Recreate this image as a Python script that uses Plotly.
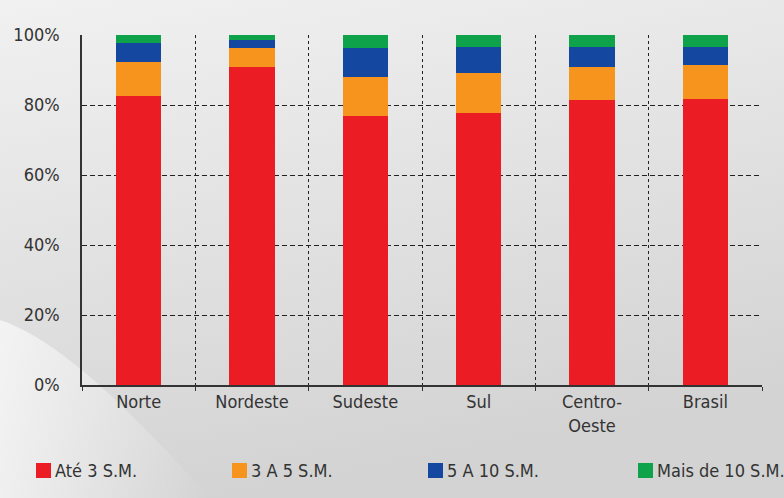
import plotly.graph_objects as go
import base64

categories = ["Norte", "Nordeste", "Sudeste", "Sul", "Centro-<br>Oeste", "Brasil"]
ate3 = [82.7, 90.8, 76.8, 77.7, 81.5, 81.8]
de3a5 = [9.5, 5.4, 11.3, 11.5, 9.3, 9.5]
de5a10 = [5.5, 2.5, 8.2, 7.5, 5.9, 5.4]
mais10 = [2.3, 1.3, 3.7, 3.3, 3.3, 3.3]
series_names = ["Até 3 S.M.", "3 A 5 S.M.", "5 A 10 S.M.", "Mais de 10 S.M."]
series_colors = ["#ec1c24", "#f7941d", "#1448a0", "#0ea24b"]
y_ticks = [0, 20, 40, 60, 80, 100]

FONT = "Liberation Sans Narrow, DejaVu Sans Condensed, Arial Narrow, sans-serif"
W, H = 784, 498
ML, MR, MT, MB = 82, 22, 35, 113
PW, PH = W - ML - MR, H - MT - MB


def px_x(px):
    return (px - ML) / PW


def px_y(py):
    return (H - MB - py) / PH


svg = """<svg xmlns='http://www.w3.org/2000/svg' width='784' height='498'>
<defs>
<linearGradient id='g' x1='0' y1='0' x2='0.3' y2='1'>
<stop offset='0' stop-color='#f1f1f1'/><stop offset='0.5' stop-color='#e2e2e2'/><stop offset='1' stop-color='#d3d3d3'/>
</linearGradient>
<linearGradient id='w' x1='0' y1='0' x2='1' y2='0'>
<stop offset='0' stop-color='#ffffff' stop-opacity='0.9'/><stop offset='1' stop-color='#ffffff' stop-opacity='0'/>
</linearGradient>
</defs>
<rect width='784' height='498' fill='url(#g)'/>
<path d='M0,320 C60,340 130,410 210,498 L0,498 Z' fill='url(#w)' opacity='0.7'/>
</svg>"""
bg_uri = "data:image/svg+xml;base64," + base64.b64encode(svg.encode()).decode()

fig = go.Figure()
for name, vals, col in zip(series_names, [ate3, de3a5, de5a10, mais10], series_colors):
    fig.add_trace(go.Bar(x=categories, y=vals, name=name, showlegend=False,
                         marker=dict(color=col, line=dict(width=0))))

# manual legend (squares + labels) placed like the reference
legend_left_px = [36, 232, 428, 638]
shapes = []
annotations = []
for name, col, lx in zip(series_names, series_colors, legend_left_px):
    shapes.append(dict(type="rect", xref="paper", yref="paper",
                       x0=px_x(lx), x1=px_x(lx + 15), y0=px_y(478), y1=px_y(463),
                       fillcolor=col, line=dict(width=0)))
    annotations.append(dict(text=name, xref="paper", yref="paper",
                            x=px_x(lx + 17), y=px_y(470.5), xanchor="left", yanchor="middle",
                            showarrow=False, font=dict(family=FONT, size=18, color="#333333")))

fig.update_layout(
    width=W, height=H,
    barmode="stack", bargap=0.6,
    margin=dict(l=ML, r=MR, t=MT, b=MB, autoexpand=False),
    paper_bgcolor="#e0e0e0", plot_bgcolor="rgba(0,0,0,0)",
    font=dict(family=FONT, size=18, color="#333333"),
    showlegend=False,
    shapes=shapes, annotations=annotations,
    images=[dict(source=bg_uri, xref="paper", yref="paper", x=-ML / PW, y=1 + MT / PH,
                 sizex=W / PW, sizey=H / PH, xanchor="left", yanchor="top",
                 sizing="stretch", layer="below")],
    xaxis=dict(tickson="boundaries", showgrid=True, gridcolor="#222222", gridwidth=1,
               griddash="3px,3px", showline=True, linecolor="#333333", linewidth=1.5,
               ticks="outside", ticklen=4, tickcolor="#333333", automargin=False,
               tickfont=dict(family=FONT, size=18, color="#333333")),
    yaxis=dict(range=[0, 100], tickvals=y_ticks, ticktext=[f"{v}%" for v in y_ticks],
               showgrid=True, gridcolor="#222222", gridwidth=1, griddash="5px,3px",
               showline=True, linecolor="#333333", linewidth=1.5, zeroline=False,
               ticks="", ticklabelstandoff=17, automargin=False,
               tickfont=dict(family=FONT, size=18, color="#333333")),
)

fig.write_html("out.html")
